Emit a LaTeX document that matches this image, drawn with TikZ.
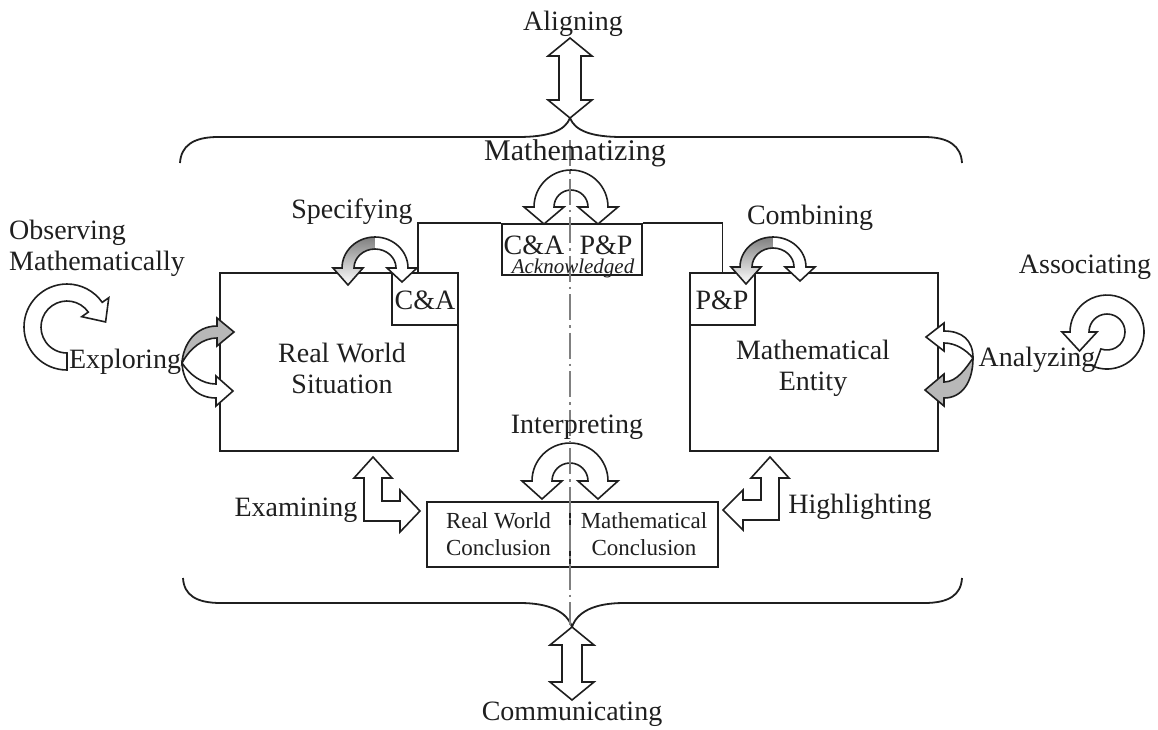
\documentclass[tikz,border=0pt]{standalone}
\usepackage{fontspec}
\setmainfont{Liberation Serif}
\usetikzlibrary{calc}
\definecolor{ink}{gray}{0.12}
\definecolor{shade}{gray}{0.72}
\definecolor{axisgray}{gray}{0.5}
\begin{document}
\begin{tikzpicture}[x=1pt,y=-1pt,
  lbl/.style={font=\fontsize{28}{31}\selectfont, text=ink, align=center, inner sep=0pt},
  small/.style={font=\fontsize{23}{27}\selectfont, text=ink, align=center, inner sep=0pt},
  box/.style={draw=ink, line width=1.8pt, inner sep=0pt},
  conn/.style={draw=ink, line width=1.8pt},
  blk/.style={draw=ink, line width=1.6pt, fill=white, line join=miter},
  outline/.style={draw=ink, line width=1.6pt, line join=miter},
  brace/.style={draw=ink, line width=1.8pt},
  axisline/.style={draw=axisgray, line width=2.3pt, dash pattern=on 26pt off 5pt on 2.5pt off 5pt}]
\useasboundingbox (0,0) rectangle (1158,729);

% boxes
\node[box, minimum width=238pt, minimum height=178pt] (rws) at (339,362) {};
\node[box, minimum width=66pt, minimum height=52pt] (ca) at (425,299) {};
\node[box, minimum width=248pt, minimum height=178pt] (me) at (814,362) {};
\node[box, minimum width=65pt, minimum height=52pt] (pp) at (722.5,299) {};
\node[box, minimum width=140pt, minimum height=51pt] (ack) at (572,249.5) {};
\node[box, small, minimum width=143pt, minimum height=65pt] (rwc) at (498.5,534.5) {Real World\\Conclusion};
\node[box, small, minimum width=148pt, minimum height=65pt] (mc) at (644,534.5) {Mathematical\\Conclusion};

% connectors
\draw[conn] ([xshift=-7pt]ca.north) |- (ack.north west);
\draw[conn] (ack.north east) -| (pp.north);

% braces
\coordinate (topcusp) at (570,118);
\coordinate (botcusp) at (572,627);
\draw[brace] (180,163) .. controls (181,146) and (193,137) .. (218,137) -- (518,137) .. controls (548,137) and (565,131) .. (topcusp) .. controls (575,131) and (592,137) .. (622,137) -- (924,137) .. controls (949,137) and (961,146) .. (962,163);
\draw[brace] (183,578) .. controls (184,595) and (196,603) .. (221,603) -- (520,603) .. controls (550,603) and (567,612) .. (botcusp) .. controls (577,612) and (594,603) .. (624,603) -- (924,603) .. controls (949,603) and (961,595) .. (962,578);

% Aligning / Communicating double arrows
\filldraw[blk] (570,38) -- (592,56) -- (581,56) -- (581,100) -- (592,100) -- (570,118) -- (548,100) -- (559,100) -- (559,56) -- (548,56) -- cycle;
\filldraw[blk] (572,627) -- (594,645) -- (582,645) -- (582,682) -- (594,682) -- (572,700) -- (550,682) -- (562,682) -- (562,645) -- (550,645) -- cycle;

% Mathematizing arc arrow
\filldraw[blk] (544,224) -- (524,207) -- (534,207) arc[start angle=180, end angle=0, radius=37pt] -- (618,207) -- (598,224) -- (578,207) -- (588,207) arc[start angle=0, end angle=180, radius=17pt] -- (564,207) -- cycle;

% Interpreting arc arrow
\filldraw[blk] (542,499) -- (522,481) -- (532,481) arc[start angle=180, end angle=0, radius=38pt] -- (618,481) -- (598,499) -- (578,481) -- (588,481) arc[start angle=0, end angle=180, radius=18pt] -- (562,481) -- cycle;

% Specifying arch
\fill[shade] (348,285) -- (333,268) -- (342,268) arc[start angle=180, end angle=90, x radius=33pt, y radius=31pt] -- (375,249) arc[start angle=90, end angle=180, x radius=21pt, y radius=19pt] -- (363,268) -- cycle;
\fill[white] (375,237) arc[start angle=90, end angle=0, x radius=33pt, y radius=31pt] -- (417,268) -- (402,282) -- (387,268) -- (396,268) arc[start angle=0, end angle=90, x radius=21pt, y radius=19pt] -- cycle;
\draw[outline] (348,285) -- (333,268) -- (342,268) arc[start angle=180, end angle=0, x radius=33pt, y radius=31pt] -- (417,268) -- (402,282) -- (387,268) -- (396,268) arc[start angle=0, end angle=180, x radius=21pt, y radius=19pt] -- (363,268) -- cycle;

% Combining arch
\fill[shade] (746,284) -- (731,267) -- (740,267) arc[start angle=180, end angle=90, x radius=33pt, y radius=30pt] -- (773,248) arc[start angle=90, end angle=180, x radius=21pt, y radius=19pt] -- (761,267) -- cycle;
\fill[white] (773,237) arc[start angle=90, end angle=0, x radius=33pt, y radius=30pt] -- (815,267) -- (800,281) -- (785,267) -- (794,267) arc[start angle=0, end angle=90, x radius=21pt, y radius=19pt] -- cycle;
\draw[outline] (746,284) -- (731,267) -- (740,267) arc[start angle=180, end angle=0, x radius=33pt, y radius=30pt] -- (815,267) -- (800,281) -- (785,267) -- (794,267) arc[start angle=0, end angle=180, x radius=21pt, y radius=19pt] -- (761,267) -- cycle;

% Exploring arrows
\filldraw[blk, fill=shade] (182,363) .. controls (183,345) and (195,326) .. (217,326) -- (217,318) -- (234,332) -- (217,346) -- (217,338) .. controls (203,338) and (190,348) .. (182,363) -- cycle;
\filldraw[blk] (182,363) .. controls (190,375) and (202,384) .. (216,384) -- (216,376) -- (233,391) -- (216,406) -- (216,398) .. controls (196,398) and (183,383) .. (182,363) -- cycle;

% Analyzing arrows
\filldraw[blk] (973,358) .. controls (973,340) and (962,331) .. (944,331) -- (944,323) -- (926,337) -- (944,351) -- (944,343) .. controls (956,343) and (966,350) .. (973,358) -- cycle;
\filldraw[blk, fill=shade] (973,358) .. controls (966,368) and (957,382) .. (944,382) -- (944,374) -- (925,390) -- (944,406) -- (944,398) .. controls (962,398) and (973,382) .. (973,358) -- cycle;

% Observing loop
\coordinate (obsC) at (67,327);
\filldraw[blk] ($(obsC)+(270:43pt)$) arc[start angle=270, end angle=35, radius=43pt] -- ($(obsC)+(35:51pt)$) -- ($(obsC)+(35:34.5pt)+(-55:18pt)$) -- ($(obsC)+(35:18pt)$) -- ($(obsC)+(35:26pt)$) arc[start angle=35, end angle=270, radius=26pt] -- cycle;

% Associating loop
\coordinate (asC) at (1107,332);
\filldraw[blk] ($(asC)+(-110:37pt)$) arc[start angle=-110, end angle=180, radius=37pt] -- ($(asC)+(180:45pt)$) -- ($(asC)+(180:27.5pt)+(270:19pt)$) -- ($(asC)+(180:10pt)$) -- ($(asC)+(180:18pt)$) arc[start angle=180, end angle=-110, radius=18pt] -- cycle;

% Examining / Highlighting L arrows
\filldraw[blk] (373,457) -- (392,478) -- (382,478) -- (382,501) -- (400,501) -- (400,490) -- (420,511) -- (400,532) -- (400,521) -- (364,521) -- (364,478) -- (354,478) -- cycle;
\filldraw[blk] (770,457) -- (789,478) -- (779,478) -- (779,520) -- (743,520) -- (743,530) -- (723,510) -- (743,490) -- (743,500) -- (761,500) -- (761,478) -- (751,478) -- cycle;

% centre axis
\draw[axisline] (570,140) -- (570,625);

% labels
\node[lbl] (rwsl) at (342,368) {Real World\\Situation};
\node[lbl] (mel) at (813,368) {Mathematical\\Entity};
\node[lbl] (cal) at (425,300) {C\&A};
\node[lbl] (ppl) at (722,300) {P\&P};
\node[lbl] (ackca) at (534,245) {C\&A};
\node[lbl] (ackpp) at (606,245) {P\&P};
\node[font=\fontsize{21}{24}\selectfont\itshape, text=ink, inner sep=0pt] (ackt) at (573,268) {Acknowledged};
\node[lbl] (aligning) at (573,24) {Aligning};
\node[lbl, font=\fontsize{30}{32}\selectfont] (mathematizing) at (575,153) {Mathematizing};
\node[lbl] (specifying) at (352,212) {Specifying};
\node[lbl] (combining) at (810,218) {Combining};
\node[lbl, anchor=west, align=left] (observing) at (9,248) {Observing\\Mathematically};
\node[lbl] (exploring) at (125,362) {Exploring};
\node[lbl] (associating) at (1085,267) {Associating};
\node[lbl] (analyzing) at (1037,360) {Analyzing};
\node[lbl] (interpreting) at (577,427) {Interpreting};
\node[lbl] (examining) at (296,510) {Examining};
\node[lbl] (highlighting) at (860,507) {Highlighting};
\node[lbl] (communicating) at (572,714) {Communicating};
\end{tikzpicture}
\end{document}
